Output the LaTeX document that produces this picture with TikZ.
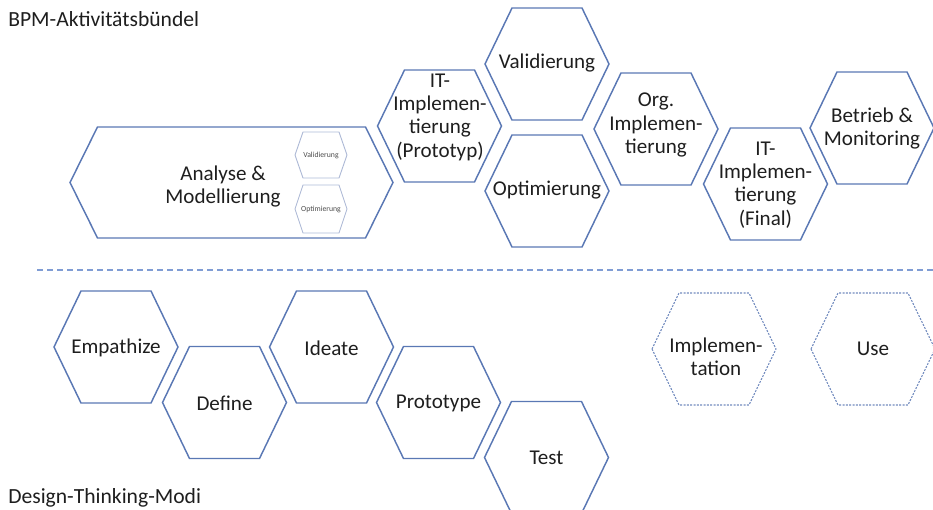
\documentclass[tikz,border=0pt]{standalone}
\usepackage{fontspec}
\setmainfont{Carlito}
\definecolor{hexblue}{HTML}{5A78B4}
\definecolor{sepblue}{HTML}{7F9CD4}
\definecolor{smallhex}{HTML}{AEBAD6}
\definecolor{txt}{HTML}{1E1E1E}
\newcommand\hexgen[6]{%
  \path[#1] ({#2-#4},{#3}) -- ({#2-#5},{#3-#6}) -- ({#2+#5},{#3-#6}) -- ({#2+#4},{#3})
    -- ({#2+#5},{#3+#6}) -- ({#2-#5},{#3+#6}) -- cycle;}
\newcommand\hexstd[3]{\hexgen{#1}{#2}{#3}{62}{35}{56}}
\begin{document}
\begin{tikzpicture}[x=0.75pt,y=-0.75pt,
  hexline/.style={draw=hexblue, line width=1.1pt, line join=miter},
  hexdash/.style={draw=hexblue!85, line width=0.8pt, dash pattern=on 1.5pt off 1pt},
  hexsmall/.style={draw=smallhex, line width=0.7pt},
  hextext/.style={align=center, inner sep=0pt, font=\fontsize{15.8}{17.5}\selectfont, text=txt},
  smalltext/.style={inner sep=0pt, font=\fontsize{5.8}{7}\selectfont, text=txt!80},
  labeltext/.style={inner sep=0pt, anchor=base west, font=\fontsize{16.2}{17}\selectfont, text=txt},
  sep/.style={draw=sepblue, line width=1.4pt, dash pattern=on 4.5pt off 3pt}]
\useasboundingbox (0,0) rectangle (933,510);

% labels
\node[labeltext] (bpm) at (8,27) {BPM-Aktivitätsbündel};
\node[labeltext] (dtm) at (8,503) {Design-Thinking-Modi};

% separator
\coordinate (sepL) at (37,270);
\coordinate (sepR) at (933,270);
\draw[sep] (sepL) -- (sepR);

% BPM hexagons
\hexgen{hexline}{231.5}{182.5}{161.5}{134}{55.5}
\node[hextext] (analyse) at (223,186.5) {Analyse \&\\Modellierung};
\hexgen{hexsmall}{321}{155}{26}{18}{23}
\node[smalltext] (sval) at (321,155) {Validierung};
\hexgen{hexsmall}{321}{209}{26}{18}{24}
\node[smalltext] (sopt) at (321,209) {Optimierung};

\hexstd{hexline}{439.5}{126}
\node[hextext] (itproto) at (440,117) {IT-\\Implemen-\\tierung\\(Prototyp)};
\hexstd{hexline}{547}{64}
\node[hextext] (valid) at (547,63) {Validierung};
\hexstd{hexline}{547}{191}
\node[hextext] (optim) at (547,190) {Optimierung};
\hexstd{hexline}{656}{129}
\node[hextext] (orgimpl) at (656,125) {Org.\\Implemen-\\tierung};
\hexstd{hexline}{765.5}{184}
\node[hextext] (itfinal) at (765.5,185) {IT-\\Implemen-\\tierung\\(Final)};
\hexstd{hexline}{872}{128}
\node[hextext] (betrieb) at (872,128.5) {Betrieb \&\\Monitoring};

% Design thinking hexagons
\hexstd{hexline}{116}{347}
\node[hextext] (empathize) at (116,348) {Empathize};
\hexstd{hexline}{224.5}{402.5}
\node[hextext] (define) at (224.5,403) {Define};
\hexstd{hexline}{331.5}{347}
\node[hextext] (ideate) at (331.5,348) {Ideate};
\hexstd{hexline}{438.5}{402.5}
\node[hextext] (prototype) at (438.5,403) {Prototype};
\hexstd{hexline}{546.5}{457.5}
\node[hextext] (test) at (546.5,458) {Test};
\hexstd{hexdash}{714}{349}
\node[hextext] (implementation) at (716,357) {Implemen-\\tation};
\hexstd{hexdash}{873}{349}
\node[hextext] (use) at (873,349) {Use};
\end{tikzpicture}
\end{document}
